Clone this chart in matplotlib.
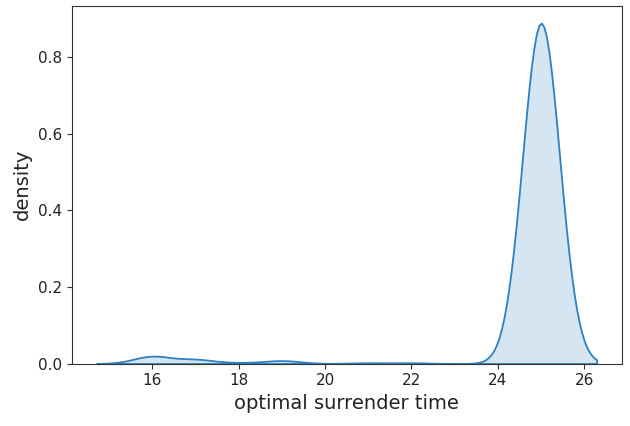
import numpy as np
import matplotlib
matplotlib.use("Agg")
import matplotlib.pyplot as plt
import seaborn as sns

# observed surrender times and how often each occurs (read from the density bumps)
surrender_times = [16, 17, 18, 19, 21, 22, 25]
counts = [20, 11, 2, 8, 2, 2, 955]

samples = np.repeat(surrender_times, counts)

plt.rcParams['font.family'] = ['DejaVu Sans']
fig = plt.figure(figsize=(6.3, 4.26), dpi=100)
ax = fig.add_axes([0.1138, 0.1467, 0.9868 - 0.1138, 0.9859 - 0.1467])
sns.kdeplot(x=samples, fill=True, bw_adjust=1.05, ax=ax,
            color="#2f80c0", alpha=0.2, linewidth=1.3)
ax.set_xlabel("optimal surrender time", fontsize=14, color="#222222")
ax.set_ylabel("density", fontsize=14, color="#222222")
ax.tick_params(labelsize=11, labelcolor="#222222", color="#333333")
for s in ax.spines.values():
    s.set_color("#333333")
ax.set_xticks([16, 18, 20, 22, 24, 26])
ax.set_yticks([0.0, 0.2, 0.4, 0.6, 0.8])
fig.savefig("out.png", dpi=100)
